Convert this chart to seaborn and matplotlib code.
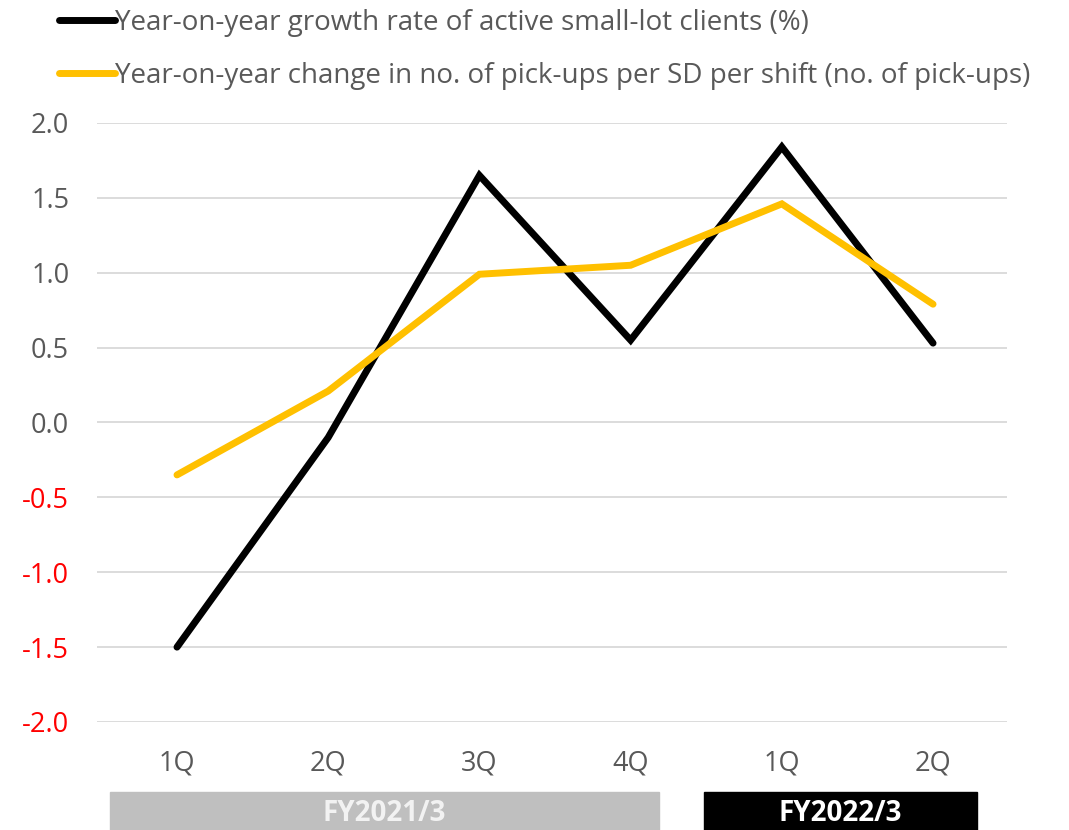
import matplotlib
matplotlib.use("Agg")
import matplotlib.pyplot as plt
import seaborn as sns
import pandas as pd
from matplotlib.patches import Rectangle
from matplotlib.lines import Line2D

quarters = ["1Q", "2Q", "3Q", "4Q", "1Q", "2Q"]
clients_growth = [-1.50, -0.10, 1.65, 0.55, 1.84, 0.53]
pickups_change = [-0.35, 0.21, 0.99, 1.05, 1.46, 0.79]
series_names = ["Year-on-year growth rate of active small-lot clients (%)",
                "Year-on-year change in no. of pick-ups per SD per shift (no. of pick-ups)"]
fiscal_years = ["FY2021/3", "FY2022/3"]
y_ticks = [-2.0, -1.5, -1.0, -0.5, 0.0, 0.5, 1.0, 1.5, 2.0]

sns.set_theme(style="white")
plt.rcParams['font.family'] = ['Open Sans', 'DejaVu Sans']

pos = list(range(len(quarters)))
df = pd.DataFrame({
    "pos": pos * 2,
    "value": clients_growth + pickups_change,
    "series": [series_names[0]] * len(pos) + [series_names[1]] * len(pos),
})

W, H = 1069, 830
fig = plt.figure(figsize=(W / 100, H / 100), dpi=100)
ax = fig.add_axes([97 / W, 1 - 722 / H, 910 / W, 599 / H])

palette = {series_names[0]: "#000000", series_names[1]: "#FFC000"}
sns.lineplot(data=df, x="pos", y="value", hue="series", palette=palette,
             linewidth=5, ax=ax, legend=False, sort=False)
for ln in ax.lines:
    ln.set_solid_capstyle("round")
    ln.set_solid_joinstyle("miter")
    ln.set_clip_on(False)

ax.set_xlim(-0.529, 5.489)
ax.set_ylim(-2.0, 2.0)
ax.set_yticks(y_ticks)
ax.set_yticklabels([f"{v:.1f}" for v in y_ticks])
for lbl, v in zip(ax.get_yticklabels(), y_ticks):
    lbl.set_color("#FF0000" if v < 0 else "#595959")
ax.set_xticks(pos)
ax.set_xticklabels(quarters, color="#595959")
ax.tick_params(axis="both", length=0, labelsize=19.5)
ax.tick_params(axis="y", pad=20)
ax.tick_params(axis="x", pad=20)
ax.grid(axis="y", color="#D9D9D9", linewidth=1.3)
ax.set_axisbelow(True)
for s in ax.spines.values():
    s.set_visible(False)
ax.set_xlabel("")
ax.set_ylabel("")

# fiscal-year bars under the axis
bars = [(110, 659, "#BFBFBF", "#F2F2F2"), (704, 977, "#000000", "#FFFFFF")]
for (x0, x1, c, tc), name in zip(bars, fiscal_years):
    fig.patches.append(Rectangle((x0 / W, 0), (x1 - x0) / W, 38 / H,
                                 transform=fig.transFigure, color=c, zorder=1))
    fig.text((x0 + x1) / 2 / W, 17 / H, name, ha="center", va="center",
             color=tc, fontsize=20, fontweight="bold")

# legend
handles = [Line2D([0], [0], color=palette[n], linewidth=5, solid_capstyle="round")
           for n in series_names]
fig.legend(handles, series_names, loc="upper left",
           bbox_to_anchor=(34 / W, 1 + 16 / H), frameon=False,
           handlelength=2.0, handletextpad=0.0, labelspacing=0.9,
           fontsize=20, labelcolor="#595959")

fig.savefig("out.png", dpi=100)
